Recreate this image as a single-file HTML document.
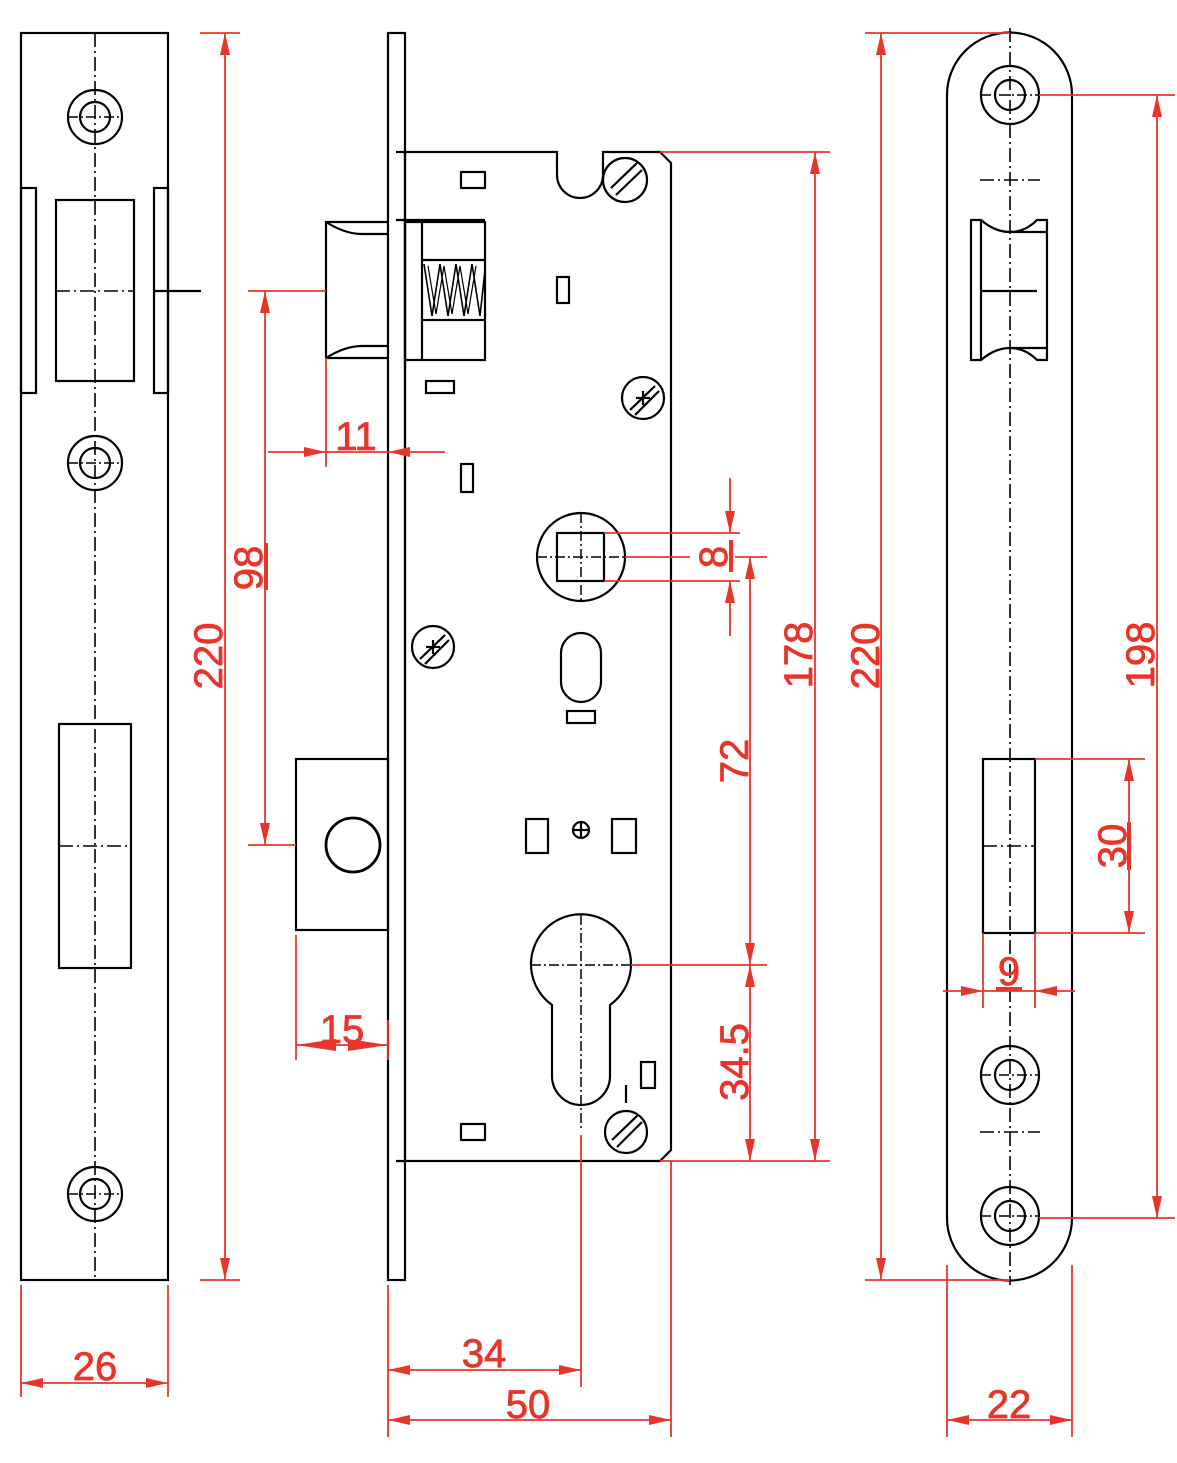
<!DOCTYPE html>
<html><head><meta charset="utf-8"><style>
html,body{margin:0;padding:0;background:#fff;}
svg{display:block;}
text{font-family:"Liberation Sans",Arial,sans-serif;fill:#e8352a;stroke:#e8352a;stroke-width:0.8;font-size:40px;}
</style></head><body>
<svg width="1177" height="1463" viewBox="0 0 1177 1463" xmlns="http://www.w3.org/2000/svg">
<g fill="none" stroke="#000" stroke-width="2.2">
<!-- LEFT VIEW -->
<rect x="21" y="33" width="147" height="1247"/>
<line x1="95" y1="33" x2="95" y2="1280" stroke-dasharray="14,4,2,4" stroke-width="1.6"/>
<circle cx="95" cy="117" r="27"/><circle cx="95" cy="117" r="15"/>
<circle cx="95" cy="463" r="27"/><circle cx="95" cy="463" r="15"/>
<circle cx="95" cy="1194" r="27"/><circle cx="95" cy="1194" r="15"/>
<line x1="68" y1="117" x2="122" y2="117" stroke-dasharray="10,3,2,3" stroke-width="1.5"/>
<line x1="68" y1="463" x2="122" y2="463" stroke-dasharray="10,3,2,3" stroke-width="1.5"/>
<line x1="68" y1="1194" x2="122" y2="1194" stroke-dasharray="10,3,2,3" stroke-width="1.5"/>
<rect x="21" y="188" width="15" height="205"/>
<rect x="154" y="188" width="14" height="205"/>
<rect x="56" y="200" width="78" height="181"/>
<line x1="56" y1="291" x2="134" y2="291" stroke-dasharray="14,4,2,4" stroke-width="1.6"/>
<line x1="154" y1="291" x2="201" y2="291"/>
<rect x="59" y="724" width="72" height="244"/>
<line x1="59" y1="846" x2="131" y2="846" stroke-dasharray="14,4,2,4" stroke-width="1.6"/>

<!-- MIDDLE VIEW -->
<rect x="388" y="33" width="17" height="1247"/>
<path d="M396 152 H557 V175 A23 23 0 0 0 603 175 V152 H660 L671 163 V1150 L660 1161 H396"/>
<line x1="405" y1="152" x2="405" y2="1161"/>
<circle cx="625" cy="180" r="22"/>
<line x1="611" y1="188" x2="637" y2="163"/><line x1="616" y1="195" x2="642" y2="170"/>
<rect x="461" y="172" width="24" height="16"/>
<rect x="557" y="277" width="12" height="26"/>
<rect x="426" y="381" width="28" height="12"/>
<rect x="461" y="464" width="12" height="28"/>
<rect x="567" y="711" width="28" height="12"/>
<rect x="461" y="1124" width="24" height="16"/>
<rect x="641" y="1062" width="14" height="26"/>
<line x1="626" y1="1085" x2="626" y2="1103"/>
<!-- latch -->
<path d="M388 222 H326 V358 H388"/>
<path d="M326 222 Q345 234 362 234 H388"/>
<path d="M326 358 Q345 346 362 346 H388"/>
<line x1="396" y1="220" x2="485" y2="220"/>
<rect x="405" y="222" width="80" height="138"/>
<line x1="422" y1="222" x2="422" y2="360"/>
<line x1="422" y1="260" x2="485" y2="260"/><line x1="422" y1="320" x2="485" y2="320"/>
<path d="M424 264 L432 316 L440 264 L448 316 L456 264 L464 316 L472 264 L480 316 L485 270" stroke-width="1.6"/>
<path d="M428 266 L436 314 L444 266 L452 314 L460 266 L468 314 L476 266" stroke-width="1.2"/>
<!-- screws -->
<circle cx="643" cy="398" r="21"/><line x1="630" y1="410" x2="655" y2="386"/><line x1="635" y1="415" x2="659" y2="391"/>
<line x1="636" y1="398" x2="650" y2="398"/><line x1="643" y1="391" x2="643" y2="405"/>
<circle cx="433" cy="647" r="21"/><line x1="420" y1="659" x2="445" y2="635"/><line x1="425" y1="664" x2="449" y2="640"/>
<line x1="426" y1="647" x2="440" y2="647"/><line x1="433" y1="640" x2="433" y2="654"/>
<circle cx="626" cy="1132" r="21"/><line x1="612" y1="1140" x2="638" y2="1115"/><line x1="617" y1="1147" x2="642" y2="1122"/>
<!-- follower -->
<circle cx="581" cy="557" r="44"/>
<rect x="557" y="533" width="47" height="48"/>
<line x1="537" y1="557" x2="625" y2="557" stroke-dasharray="10,3,2,3" stroke-width="1.5"/>
<line x1="581" y1="513" x2="581" y2="601" stroke-dasharray="10,3,2,3" stroke-width="1.5"/>
<rect x="561" y="633" width="40" height="69" rx="20"/>
<rect x="526" y="819" width="22" height="34"/>
<rect x="612" y="819" width="24" height="34"/>
<circle cx="581" cy="830" r="8"/><line x1="573" y1="830" x2="589" y2="830"/><line x1="581" y1="822" x2="581" y2="838"/>
<!-- cylinder -->
<path d="M552 1005 A50 50 0 1 1 610 1005 V1076 A29 29 0 0 1 552 1076 Z"/>
<line x1="531" y1="965" x2="631" y2="965" stroke-dasharray="10,3,2,3" stroke-width="1.5"/>
<line x1="581" y1="915" x2="581" y2="1130" stroke-dasharray="10,3,2,3" stroke-width="1.5"/>
<!-- deadbolt -->
<rect x="296" y="759" width="92" height="171"/>
<circle cx="353" cy="845" r="27" stroke-width="2.8"/>

<!-- RIGHT VIEW -->
<path d="M947 95 A62 62 0 0 1 1072 95 V1218 A62 62 0 0 1 947 1218 Z"/>
<line x1="1010" y1="28" x2="1010" y2="1285" stroke-dasharray="14,4,2,4" stroke-width="1.6"/>
<circle cx="1010" cy="95" r="29"/><circle cx="1010" cy="95" r="15"/>
<circle cx="1010" cy="1075" r="29"/><circle cx="1010" cy="1075" r="15"/>
<circle cx="1010" cy="1216" r="29"/><circle cx="1010" cy="1216" r="15"/>
<line x1="981" y1="95" x2="1039" y2="95" stroke-dasharray="10,3,2,3" stroke-width="1.5"/>
<line x1="981" y1="1075" x2="1039" y2="1075" stroke-dasharray="10,3,2,3" stroke-width="1.5"/>
<line x1="981" y1="1216" x2="1039" y2="1216" stroke-dasharray="10,3,2,3" stroke-width="1.5"/>
<line x1="980" y1="180" x2="1040" y2="180" stroke-dasharray="14,4,2,4" stroke-width="1.6"/>
<line x1="980" y1="1132" x2="1040" y2="1132" stroke-dasharray="14,4,2,4" stroke-width="1.6"/>
<path d="M971 220 H981 Q995 232 1010 232 Q1025 232 1037 220 H1047 V360 H1037 Q1025 348 1010 348 Q995 348 981 360 H971 Z"/>
<line x1="981" y1="220" x2="981" y2="360"/>
<line x1="1010" y1="232" x2="1047" y2="232"/><line x1="1010" y1="348" x2="1047" y2="348"/>
<line x1="981" y1="291" x2="1037" y2="291"/>
<rect x="983" y="759" width="52" height="174"/>
<line x1="983" y1="846" x2="1035" y2="846" stroke-dasharray="14,4,2,4" stroke-width="1.6"/>
</g>

<!-- RED DIMENSIONS -->
<g stroke="#e8352a" stroke-width="1.8" fill="none">
<line x1="200" y1="33" x2="240" y2="33"/><line x1="200" y1="1280" x2="240" y2="1280"/>
<line x1="225" y1="33" x2="225" y2="1280"/>
<line x1="21" y1="1285" x2="21" y2="1397"/><line x1="168" y1="1285" x2="168" y2="1397"/>
<line x1="21" y1="1383" x2="168" y2="1383"/>
<line x1="248" y1="291" x2="326" y2="291"/><line x1="248" y1="845" x2="296" y2="845"/>
<line x1="265" y1="291" x2="265" y2="845"/>
<line x1="326" y1="358" x2="326" y2="467"/>
<line x1="268" y1="452" x2="445" y2="452"/>
<line x1="296" y1="935" x2="296" y2="1060"/><line x1="388" y1="1020" x2="388" y2="1060"/>
<line x1="296" y1="1045" x2="388" y2="1045"/>
<line x1="581" y1="1135" x2="581" y2="1387"/>
<line x1="388" y1="1285" x2="388" y2="1437"/><line x1="671" y1="1161" x2="671" y2="1437"/>
<line x1="388" y1="1370" x2="581" y2="1370"/>
<line x1="388" y1="1420" x2="671" y2="1420"/>
<line x1="660" y1="152" x2="830" y2="152"/><line x1="660" y1="1161" x2="830" y2="1161"/>
<line x1="815" y1="152" x2="815" y2="1161"/>
<line x1="604" y1="533" x2="740" y2="533"/><line x1="604" y1="581" x2="740" y2="581"/>
<line x1="625" y1="557" x2="690" y2="557"/><line x1="735" y1="557" x2="767" y2="557"/>
<line x1="730" y1="478" x2="730" y2="533"/><line x1="730" y1="581" x2="730" y2="636"/>
<line x1="631" y1="965" x2="767" y2="965"/>
<line x1="750" y1="557" x2="750" y2="1161"/>
<line x1="865" y1="33" x2="1010" y2="33"/><line x1="865" y1="1280" x2="1010" y2="1280"/>
<line x1="881" y1="33" x2="881" y2="1280"/>
<line x1="1039" y1="95" x2="1175" y2="95"/><line x1="1039" y1="1218" x2="1175" y2="1218"/>
<line x1="1157" y1="95" x2="1157" y2="1218"/>
<line x1="1035" y1="759" x2="1145" y2="759"/><line x1="1035" y1="933" x2="1145" y2="933"/>
<line x1="1129" y1="759" x2="1129" y2="933"/>
<line x1="983" y1="933" x2="983" y2="1008"/><line x1="1035" y1="933" x2="1035" y2="1008"/>
<line x1="943" y1="991" x2="1075" y2="991"/>
<line x1="947" y1="1265" x2="947" y2="1437"/><line x1="1072" y1="1265" x2="1072" y2="1437"/>
<line x1="947" y1="1420" x2="1072" y2="1420"/>
</g>
<g fill="#e8352a">
<polygon points="225,33 220,55 230,55"/><polygon points="225,1280 220,1258 230,1258"/>
<polygon points="21,1383 43,1378 43,1388"/><polygon points="168,1383 146,1378 146,1388"/>
<polygon points="265,291 260,313 270,313"/><polygon points="265,845 260,823 270,823"/>
<polygon points="326,452 304,447 304,457"/><polygon points="388,452 410,447 410,457"/>
<polygon points="296,1045 336,1039 336,1051"/><polygon points="388,1045 348,1039 348,1051"/>
<polygon points="388,1370 410,1365 410,1375"/><polygon points="581,1370 559,1365 559,1375"/>
<polygon points="388,1420 410,1415 410,1425"/><polygon points="671,1420 649,1415 649,1425"/>
<polygon points="815,152 810,174 820,174"/><polygon points="815,1161 810,1139 820,1139"/>
<polygon points="730,533 725,511 735,511"/><polygon points="730,581 725,603 735,603"/>
<polygon points="750,557 745,579 755,579"/><polygon points="750,965 745,943 755,943"/>
<polygon points="750,965 745,987 755,987"/><polygon points="750,1161 745,1139 755,1139"/>
<polygon points="881,33 876,55 886,55"/><polygon points="881,1280 876,1258 886,1258"/>
<polygon points="1157,95 1152,117 1162,117"/><polygon points="1157,1218 1152,1196 1162,1196"/>
<polygon points="1129,759 1124,781 1134,781"/><polygon points="1129,933 1124,911 1134,911"/>
<polygon points="983,991 961,986 961,996"/><polygon points="1035,991 1057,986 1057,996"/>
<polygon points="947,1420 969,1415 969,1425"/><polygon points="1072,1420 1050,1415 1050,1425"/>
<rect x="264" y="543" width="4" height="47"/>
<rect x="729" y="540" width="4" height="32"/>
<rect x="1127" y="822" width="4" height="48"/>
<rect x="996" y="987" width="26" height="4"/>
</g>
<text x="95" y="1380" text-anchor="middle">26</text>
<text x="356" y="450" text-anchor="middle">11</text>
<text x="342" y="1043" text-anchor="middle">15</text>
<text x="484" y="1367" text-anchor="middle">34</text>
<text x="528" y="1418" text-anchor="middle">50</text>
<text x="1009" y="1418" text-anchor="middle">22</text>
<text x="1009" y="985" text-anchor="middle">9</text>
<text transform="translate(222,656) rotate(-90)" text-anchor="middle">220</text>
<text transform="translate(262,568) rotate(-90)" text-anchor="middle">98</text>
<text transform="translate(812,655) rotate(-90)" text-anchor="middle">178</text>
<text transform="translate(727,557) rotate(-90)" text-anchor="middle">8</text>
<text transform="translate(748,761) rotate(-90)" text-anchor="middle">72</text>
<text transform="translate(748,1062) rotate(-90)" text-anchor="middle">34.5</text>
<text transform="translate(879,656) rotate(-90)" text-anchor="middle">220</text>
<text transform="translate(1154,655) rotate(-90)" text-anchor="middle">198</text>
<text transform="translate(1126,846) rotate(-90)" text-anchor="middle">30</text>
</svg>
</body></html>
